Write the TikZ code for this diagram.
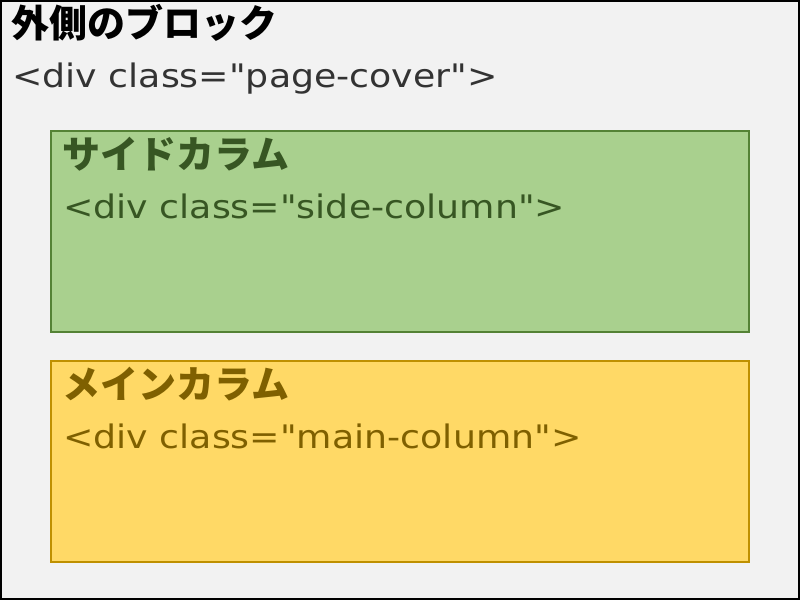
\documentclass[tikz,border=0pt]{standalone}
\usepackage{fontspec}
\setmainfont{Noto Sans CJK JP}
\newfontfamily\jpbold{Noto Sans CJK JP Bold}
\newfontfamily\codefont[FakeStretch=1.12]{DejaVu Sans}
\definecolor{bg}{HTML}{F2F2F2}
\definecolor{gfill}{HTML}{A9D08E}
\definecolor{gline}{HTML}{548235}
\definecolor{gtext}{HTML}{375623}
\definecolor{yfill}{HTML}{FFD966}
\definecolor{yline}{HTML}{BF9000}
\definecolor{ytext}{HTML}{7F6000}
\definecolor{otext}{HTML}{333333}
\begin{document}
\begin{tikzpicture}[x=0.75pt,y=-0.75pt,
  titletxt/.style={anchor=base west,inner sep=0pt,font=\fontsize{28.5}{32}\selectfont\bfseries},
  codetxt/.style={anchor=base west,inner sep=0pt,font=\codefont\fontsize{24.3}{28}\selectfont},
  colbox/.style={line width=1.5pt}]
\useasboundingbox (0,0) rectangle (800,600);
\draw[fill=bg,draw=black,line width=1.5pt] (1,1) rectangle (799,599);
\node[titletxt,text=black] (t1) at (11,37) {外側のブロック};
\node[codetxt,text=otext] (c1) at (12,87) {<div class=\char34 page-cover\char34>};
\draw[colbox,fill=gfill,draw=gline] (51,131) rectangle (749,332);
\node[titletxt,text=gtext] (t2) at (62,168) {サイドカラム};
\node[codetxt,text=gtext] (c2) at (63,218) {<div class=\char34 side-column\char34>};
\draw[colbox,fill=yfill,draw=yline] (51,361) rectangle (749,562);
\node[titletxt,text=ytext] (t3) at (62,398) {メインカラム};
\node[codetxt,text=ytext] (c3) at (63,448) {<div class=\char34 main-column\char34>};
\end{tikzpicture}
\end{document}
